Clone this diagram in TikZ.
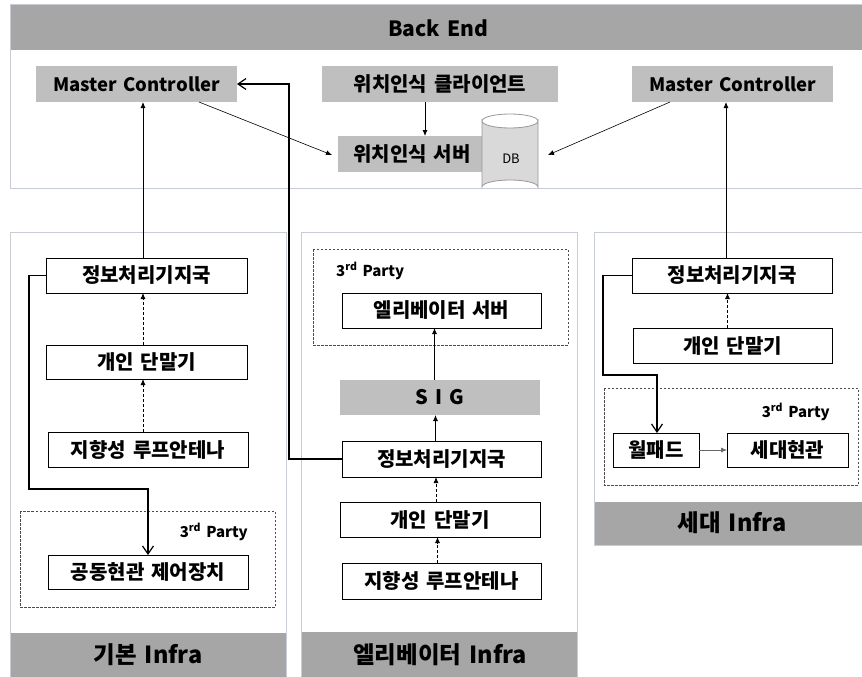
\documentclass[tikz,border=0pt]{standalone}
\usepackage{fontspec}
\setmainfont{Noto Sans CJK KR}[WordSpace=1.5]
\usetikzlibrary{arrows.meta,shapes.geometric}
\definecolor{hdr}{HTML}{A6A6A6}
\definecolor{lgray}{HTML}{BFBFBF}
\definecolor{frame}{HTML}{C8CDD4}
\definecolor{dbfill}{HTML}{D9D9D9}
\tikzset{
  box/.style={draw=black, line width=1, fill=white, minimum width=200, minimum height=35, inner sep=0, outer sep=0, font=\fontsize{20}{22}\selectfont\bfseries},
  gbox/.style={fill=lgray, draw=none, minimum width=201, minimum height=36, inner sep=0, outer sep=0, font=\fontsize{20}{22}\selectfont\bfseries},
  mcfont/.style={font=\fontsize{18.5}{22}\selectfont\bfseries},
  panel/.style={draw=frame, line width=1},
  foot/.style={fill=hdr, draw=none},
  foottxt/.style={font=\fontsize{23.5}{26}\selectfont\bfseries},
  third/.style={draw=black!70, line width=0.8, dash pattern=on 2.5 off 1.5},
  thirdtxt/.style={font=\fontsize{15}{17}\selectfont\bfseries, inner sep=0},
  arr/.style={-{Latex[length=6,width=5]}, line width=0.8, draw=black},
  darr/.style={-{Latex[length=6,width=5]}, line width=0.8, draw=black, dash pattern=on 3 off 2},
  openarr/.style={-{Straight Barb[length=8,width=11]}, line width=1.2, draw=black},
}
\begin{document}
\begin{tikzpicture}[x=1pt,y=-1pt]
\useasboundingbox (0,0) rectangle (862,677);
\fill[white] (0,0) rectangle (862,677);

% ---------- Back End ----------
\draw[panel] (10,5) rectangle (870,188);
\fill[hdr] (10.5,5.5) rectangle (870,50);
\node[font=\fontsize{21}{24}\selectfont\bfseries] (backend) at (438,28) {Back End};

\node[gbox, mcfont] (mcl) at (136.5,84) {Master Controller};
\node[gbox, minimum width=236] (cli) at (440,84) {위치인식 클라이언트};
\node[gbox, mcfont] (mcr) at (732.5,84) {Master Controller};
\node[gbox, minimum width=149, minimum height=36] (srv) at (412.5,154) {};
\node[font=\fontsize{20}{22}\selectfont\bfseries] (srvtxt) at (412,154) {위치인식 서버};
\node[minimum width=56, minimum height=52, inner sep=0, outer sep=0] (db) at (510,154) {};
\filldraw[draw=black!40, fill=dbfill, line width=0.8]
  ([yshift=7]db.north west) -- ([yshift=-7]db.south west)
  arc[start angle=180, end angle=360, x radius=28, y radius=7]
  -- ([yshift=7]db.north east)
  arc[start angle=0, end angle=180, x radius=28, y radius=7] -- cycle;
\draw[draw=black!40, line width=0.8] ([yshift=7]db.north west)
  arc[start angle=180, end angle=360, x radius=28, y radius=7];
\node[font=\fontsize{13}{15}\selectfont] (dbtxt) at (511,159) {DB};

\draw[arr, line width=0.6] ([xshift=-38]mcl.south east) -- ([xshift=-6,yshift=-1]srv.west);
\draw[arr] ([xshift=-15]cli.south) -- ([xshift=-15]cli.south |- srv.north);
\draw[arr, line width=0.6] ([xshift=38]mcr.south west) -- ([xshift=10,yshift=-1]db.east);

% ---------- 기본 Infra ----------
\draw[panel] (10,232) rectangle (286,677);
\fill[foot] (10.5,633) rectangle (285.5,677);
\node[foottxt] (bfoot) at (148,655) {기본 Infra};

\node[box, minimum width=201] (binfo) at (146.5,275.5) {정보처리기지국};
\node[box, minimum width=201, minimum height=34] (bterm) at (146.5,362) {개인 단말기};
\node[box] (bant) at (148,449.5) {지향성 루프안테나};
\draw[third] (20,511) rectangle (275,607);
\node[thirdtxt, anchor=east] (b3rd) at (248,532) {3\textsuperscript{rd} Party};
\node[box, minimum height=34] (bdoor) at (148,572) {공동현관 제어장치};

\draw[arr] ([xshift=-3.5]binfo.north) -- ([xshift=-3.5]binfo.north |- mcl.south);
\draw[darr] ([xshift=-3.5]bterm.north) -- ([xshift=-3.5]bterm.north |- binfo.south);
\draw[darr] ([xshift=-5]bant.north) -- ([xshift=-5]bant.north |- bterm.south);
\draw[openarr] (binfo.west) -- (29,275.5) -- (29,489) -- (148,489) -- (bdoor.north);

% ---------- 엘리베이터 Infra ----------
\draw[panel] (301,232) rectangle (577,677);
\fill[foot] (302,632) rectangle (577,677);
\node[foottxt] (efoot) at (440,655) {엘리베이터 Infra};

\draw[third] (313,249) rectangle (568,345);
\node[thirdtxt, anchor=west] (e3rd) at (336,271) {3\textsuperscript{rd} Party};
\node[box, minimum width=199] (esrv) at (441.5,310.5) {엘리베이터 서버};
\node[gbox, minimum width=200, minimum height=35] (esig) at (440,397.5) {S I G};
\node[box, minimum width=199, minimum height=36] (einfo) at (441.5,459) {정보처리기지국};
\node[box] (eterm) at (440,519.5) {개인 단말기};
\node[box, minimum width=199, minimum height=36] (eant) at (441.5,581) {지향성 루프안테나};

\draw[arr] ([xshift=-7]esig.north -| esrv.south) -- ([xshift=-7]esrv.south);
\draw[arr] ([xshift=-6]einfo.north) -- ([xshift=-6]einfo.north |- esig.south);
\draw[darr] ([xshift=-4]eterm.north) -- ([xshift=-4]eterm.north |- einfo.south);
\draw[darr] ([xshift=-4]eant.north) -- ([xshift=-4]eant.north |- eterm.south);
\draw[openarr] (einfo.west) -- (289,459) -- (289,84) -- (mcl.east);

% ---------- 세대 Infra ----------
\draw[panel] (594,232) rectangle (870,545);
\fill[foot] (594.5,502) rectangle (870,545);
\node[foottxt] (sfoot) at (732,523) {세대 Infra};

\node[box] (sinfo) at (732,275.5) {정보처리기지국};
\node[box, minimum width=199] (sterm) at (732.5,345.5) {개인 단말기};
\draw[third] (604,388) rectangle (858,485);
\node[thirdtxt, anchor=east] (s3rd) at (830,412) {3\textsuperscript{rd} Party};
\node[box, minimum width=86, minimum height=34] (swall) at (656,450) {월패드};
\node[box, minimum width=121, minimum height=34] (sdoor) at (787.5,450) {세대현관};

\draw[arr] ([xshift=-6]sinfo.north) -- ([xshift=-6]sinfo.north |- mcr.south);
\draw[darr] ([xshift=-5]sterm.north) -- ([xshift=-5]sterm.north |- sinfo.south);
\draw[arr, draw=black!60, line width=0.7] (swall.east) -- (sdoor.west);
\draw[openarr] (sinfo.west) -- (603,275.5) -- (603,375) -- (657,375) -- (657,433);
\end{tikzpicture}
\end{document}
